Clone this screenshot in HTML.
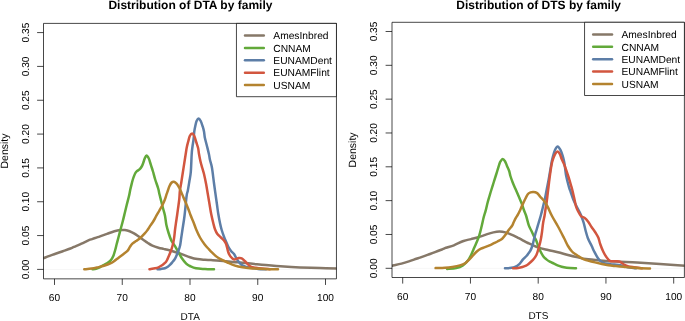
<!DOCTYPE html>
<html><head><meta charset="utf-8"><style>
html,body{margin:0;padding:0;background:#fff;}
svg{display:block;will-change:transform;}
text{font-family:"Liberation Sans",sans-serif;fill:#000;text-rendering:geometricPrecision;}
.a{font-size:10.15px;}
.xl{font-size:10px;}
.yl{font-size:10.5px;}
.lg{font-size:10.25px;}
.t{font-size:12.00px;font-weight:bold;fill:#000;}
</style></head><body>
<svg width="685" height="321" viewBox="0 0 685 321">
<rect width="685" height="321" fill="#fff"/>
<g transform="translate(0.00 0.00)">
<line x1="43.50" y1="269.4" x2="336.45" y2="269.4" stroke="#f7f7f7" stroke-width="1"/>
<text x="190.4" y="8.90" text-anchor="middle" class="t">Distribution of DTA by family</text>
<line x1="54.50" y1="278.85" x2="54.50" y2="284.95" stroke="#000" stroke-width="0.72"/>
<text x="54.50" y="300.7" text-anchor="middle" class="a">60</text>
<line x1="122.25" y1="278.85" x2="122.25" y2="284.95" stroke="#000" stroke-width="0.72"/>
<text x="122.25" y="300.7" text-anchor="middle" class="a">70</text>
<line x1="190.00" y1="278.85" x2="190.00" y2="284.95" stroke="#000" stroke-width="0.72"/>
<text x="190.00" y="300.7" text-anchor="middle" class="a">80</text>
<line x1="257.75" y1="278.85" x2="257.75" y2="284.95" stroke="#000" stroke-width="0.72"/>
<text x="257.75" y="300.7" text-anchor="middle" class="a">90</text>
<line x1="325.50" y1="278.85" x2="325.50" y2="284.95" stroke="#000" stroke-width="0.72"/>
<text x="325.50" y="300.7" text-anchor="middle" class="a">100</text>
<text x="190.2" y="320.2" text-anchor="middle" class="xl">DTA</text>
<line x1="37.10" y1="269.40" x2="43.50" y2="269.40" stroke="#000" stroke-width="0.72"/>
<text transform="translate(28.7 269.40) rotate(-90)" text-anchor="middle" class="a">0.00</text>
<line x1="37.10" y1="235.57" x2="43.50" y2="235.57" stroke="#000" stroke-width="0.72"/>
<text transform="translate(28.7 235.57) rotate(-90)" text-anchor="middle" class="a">0.05</text>
<line x1="37.10" y1="201.74" x2="43.50" y2="201.74" stroke="#000" stroke-width="0.72"/>
<text transform="translate(28.7 201.74) rotate(-90)" text-anchor="middle" class="a">0.10</text>
<line x1="37.10" y1="167.91" x2="43.50" y2="167.91" stroke="#000" stroke-width="0.72"/>
<text transform="translate(28.7 167.91) rotate(-90)" text-anchor="middle" class="a">0.15</text>
<line x1="37.10" y1="134.08" x2="43.50" y2="134.08" stroke="#000" stroke-width="0.72"/>
<text transform="translate(28.7 134.08) rotate(-90)" text-anchor="middle" class="a">0.20</text>
<line x1="37.10" y1="100.25" x2="43.50" y2="100.25" stroke="#000" stroke-width="0.72"/>
<text transform="translate(28.7 100.25) rotate(-90)" text-anchor="middle" class="a">0.25</text>
<line x1="37.10" y1="66.42" x2="43.50" y2="66.42" stroke="#000" stroke-width="0.72"/>
<text transform="translate(28.7 66.42) rotate(-90)" text-anchor="middle" class="a">0.30</text>
<line x1="37.10" y1="32.59" x2="43.50" y2="32.59" stroke="#000" stroke-width="0.72"/>
<text transform="translate(28.7 32.59) rotate(-90)" text-anchor="middle" class="a">0.35</text>
<text transform="translate(7.6 151) rotate(-90)" text-anchor="middle" class="yl">Density</text>
<clipPath id="c0"><rect x="43.50" y="23.40" width="292.95" height="255.45"/></clipPath><g clip-path="url(#c0)"><g>
<path d="M42.00 258.50 C42.27 258.43 42.60 258.45 43.60 258.10 C44.60 257.75 46.02 257.12 48.00 256.40 C49.98 255.68 53.02 254.67 55.50 253.80 C57.98 252.93 60.42 252.08 62.90 251.20 C65.38 250.32 68.55 249.22 70.40 248.50 C72.25 247.78 72.15 247.72 74.00 246.90 C75.85 246.08 79.02 244.72 81.50 243.60 C83.98 242.48 87.15 240.95 88.90 240.20 C90.65 239.45 90.75 239.53 92.00 239.10 C93.25 238.67 95.07 238.05 96.40 237.60 C97.73 237.15 98.23 237.02 100.00 236.40 C101.77 235.78 104.60 234.75 107.00 233.90 C109.40 233.05 112.17 231.93 114.40 231.30 C116.63 230.67 118.65 230.30 120.40 230.10 C122.15 229.90 123.37 229.92 124.90 230.10 C126.43 230.28 128.08 230.65 129.60 231.20 C131.12 231.75 132.48 232.52 134.00 233.40 C135.52 234.28 137.17 235.45 138.70 236.50 C140.23 237.55 141.67 238.62 143.20 239.70 C144.73 240.78 146.37 242.02 147.90 243.00 C149.43 243.98 150.65 244.82 152.40 245.60 C154.15 246.38 156.53 247.15 158.40 247.70 C160.27 248.25 162.08 248.55 163.60 248.90 C165.12 249.25 165.60 249.28 167.50 249.80 C169.40 250.32 172.52 251.23 175.00 252.00 C177.48 252.77 179.92 253.53 182.40 254.40 C184.88 255.27 187.40 256.42 189.90 257.20 C192.40 257.98 194.90 258.67 197.40 259.10 C199.90 259.53 202.63 259.63 204.90 259.80 C207.17 259.97 208.48 259.95 211.00 260.10 C213.52 260.25 216.00 260.35 220.00 260.70 C224.00 261.05 231.67 261.90 235.00 262.20 C238.33 262.50 237.03 262.23 240.00 262.50 C242.97 262.77 248.52 263.37 252.80 263.80 C257.08 264.23 260.50 264.63 265.70 265.10 C270.90 265.57 278.28 266.22 284.00 266.60 C289.72 266.98 294.00 267.17 300.00 267.40 C306.00 267.63 313.67 267.83 320.00 268.00 C326.33 268.17 335.00 268.33 338.00 268.40" fill="none" stroke="#867868" stroke-width="2.50" stroke-linecap="round" stroke-linejoin="round"/>
<path d="M92.50 269.30 C93.08 269.22 94.92 269.08 96.00 268.80 C97.08 268.52 97.92 268.12 99.00 267.60 C100.08 267.08 101.17 266.40 102.50 265.70 C103.83 265.00 105.63 264.28 107.00 263.40 C108.37 262.52 109.65 261.63 110.70 260.40 C111.75 259.17 112.55 257.73 113.30 256.00 C114.05 254.27 114.63 252.00 115.20 250.00 C115.77 248.00 116.18 246.00 116.70 244.00 C117.22 242.00 117.68 240.33 118.30 238.00 C118.92 235.67 119.67 232.75 120.40 230.00 C121.13 227.25 121.95 224.42 122.70 221.50 C123.45 218.58 124.23 215.25 124.90 212.50 C125.57 209.75 126.02 207.75 126.70 205.00 C127.38 202.25 128.42 198.50 129.00 196.00 C129.58 193.50 129.82 191.77 130.20 190.00 C130.58 188.23 130.93 186.90 131.30 185.40 C131.67 183.90 132.02 182.37 132.40 181.00 C132.78 179.63 133.15 178.45 133.60 177.20 C134.05 175.95 134.55 174.50 135.10 173.50 C135.65 172.50 136.17 171.88 136.90 171.20 C137.63 170.52 138.70 170.18 139.50 169.40 C140.30 168.62 141.08 167.57 141.70 166.50 C142.32 165.43 142.70 164.33 143.20 163.00 C143.70 161.67 144.14 159.75 144.70 158.50 C145.26 157.25 145.87 155.50 146.55 155.50 C147.23 155.50 148.18 157.25 148.80 158.50 C149.43 159.75 149.73 161.25 150.30 163.00 C150.87 164.75 151.70 167.42 152.20 169.00 C152.70 170.58 152.80 170.75 153.30 172.50 C153.80 174.25 154.38 176.83 155.20 179.50 C156.02 182.17 157.50 186.08 158.20 188.50 C158.90 190.92 158.88 191.83 159.40 194.00 C159.92 196.17 160.67 199.00 161.30 201.50 C161.93 204.00 162.58 206.63 163.20 209.00 C163.82 211.37 164.47 213.03 165.00 215.70 C165.53 218.37 165.80 222.12 166.40 225.00 C167.00 227.88 167.80 230.47 168.60 233.00 C169.40 235.53 170.47 238.53 171.20 240.20 C171.93 241.87 172.37 242.00 173.00 243.00 C173.63 244.00 174.05 244.58 175.00 246.20 C175.95 247.82 177.58 250.73 178.70 252.70 C179.82 254.67 180.45 256.18 181.70 258.00 C182.95 259.82 184.82 262.27 186.20 263.60 C187.58 264.93 188.37 265.22 190.00 266.00 C191.63 266.78 193.50 267.80 196.00 268.30 C198.50 268.80 202.00 268.83 205.00 269.00 C208.00 269.17 212.50 269.25 214.00 269.30" fill="none" stroke="#62A93A" stroke-width="2.50" stroke-linecap="round" stroke-linejoin="round"/>
<path d="M157.50 269.30 C158.08 269.23 159.77 269.08 161.00 268.90 C162.23 268.72 163.77 268.57 164.90 268.20 C166.03 267.83 166.92 267.30 167.80 266.70 C168.68 266.10 169.42 265.38 170.20 264.60 C170.98 263.82 171.78 262.85 172.50 262.00 C173.22 261.15 173.92 260.38 174.50 259.50 C175.08 258.62 175.38 258.03 176.00 256.70 C176.62 255.37 177.52 253.37 178.20 251.50 C178.88 249.63 179.60 247.75 180.10 245.50 C180.60 243.25 180.82 240.58 181.20 238.00 C181.58 235.42 181.85 233.67 182.40 230.00 C182.95 226.33 183.80 221.67 184.50 216.00 C185.20 210.33 186.05 200.22 186.60 196.00 C187.15 191.78 187.35 193.08 187.80 190.70 C188.25 188.32 188.80 184.82 189.30 181.70 C189.80 178.58 190.40 176.62 190.80 172.00 C191.20 167.38 191.42 158.25 191.70 154.00 C191.98 149.75 192.18 149.00 192.50 146.50 C192.82 144.00 193.30 141.52 193.60 139.00 C193.90 136.48 194.00 133.65 194.30 131.40 C194.60 129.15 195.02 127.23 195.40 125.50 C195.78 123.77 196.07 122.18 196.60 121.00 C197.13 119.82 197.92 118.40 198.60 118.40 C199.28 118.40 200.03 119.70 200.70 121.00 C201.37 122.30 202.05 124.47 202.60 126.20 C203.15 127.93 203.63 129.52 204.00 131.40 C204.37 133.28 204.35 135.23 204.80 137.50 C205.25 139.77 206.02 142.25 206.70 145.00 C207.38 147.75 208.35 151.50 208.90 154.00 C209.45 156.50 209.48 157.67 210.00 160.00 C210.52 162.33 211.32 164.00 212.00 168.00 C212.68 172.00 213.28 178.00 214.10 184.00 C214.92 190.00 216.20 199.00 216.90 204.00 C217.60 209.00 217.75 210.67 218.30 214.00 C218.85 217.33 219.63 221.33 220.20 224.00 C220.77 226.67 221.07 227.88 221.70 230.00 C222.33 232.12 223.25 234.70 224.00 236.70 C224.75 238.70 225.50 240.37 226.20 242.00 C226.90 243.63 227.37 244.97 228.20 246.50 C229.03 248.03 230.20 249.92 231.20 251.20 C232.20 252.48 233.32 252.95 234.20 254.20 C235.08 255.45 235.75 257.45 236.50 258.70 C237.25 259.95 237.83 260.63 238.70 261.70 C239.57 262.77 240.58 264.28 241.70 265.10 C242.82 265.92 243.78 266.15 245.40 266.60 C247.02 267.05 249.30 267.42 251.40 267.80 C253.50 268.18 255.57 268.65 258.00 268.90 C260.43 269.15 264.67 269.23 266.00 269.30" fill="none" stroke="#5D7EA7" stroke-width="2.50" stroke-linecap="round" stroke-linejoin="round"/>
<path d="M149.50 269.30 C150.45 269.13 153.70 268.63 155.20 268.30 C156.70 267.97 157.50 267.73 158.50 267.30 C159.50 266.87 160.33 266.27 161.20 265.70 C162.07 265.13 162.92 264.52 163.70 263.90 C164.48 263.28 165.30 262.73 165.90 262.00 C166.50 261.27 166.87 260.38 167.30 259.50 C167.73 258.62 167.93 258.03 168.50 256.70 C169.07 255.37 170.02 253.37 170.70 251.50 C171.38 249.63 172.03 247.75 172.60 245.50 C173.17 243.25 173.70 240.58 174.10 238.00 C174.50 235.42 174.67 232.67 175.00 230.00 C175.33 227.33 175.77 224.33 176.10 222.00 C176.43 219.67 176.67 218.33 177.00 216.00 C177.33 213.67 177.72 210.83 178.10 208.00 C178.48 205.17 179.00 201.88 179.30 199.00 C179.60 196.12 179.55 193.58 179.90 190.70 C180.25 187.82 180.90 184.82 181.40 181.70 C181.90 178.58 182.18 176.62 182.90 172.00 C183.62 167.38 185.05 158.13 185.70 154.00 C186.35 149.87 186.37 149.33 186.80 147.20 C187.23 145.07 187.80 143.07 188.30 141.20 C188.80 139.33 189.17 137.30 189.80 136.00 C190.43 134.70 191.35 133.40 192.10 133.40 C192.85 133.40 193.62 134.57 194.30 136.00 C194.98 137.43 195.57 140.00 196.20 142.00 C196.83 144.00 197.63 146.00 198.10 148.00 C198.57 150.00 198.60 151.75 199.00 154.00 C199.40 156.25 199.95 159.17 200.50 161.50 C201.05 163.83 201.72 165.92 202.30 168.00 C202.88 170.08 203.37 171.33 204.00 174.00 C204.63 176.67 205.47 180.67 206.10 184.00 C206.73 187.33 207.23 190.67 207.80 194.00 C208.37 197.33 208.93 200.67 209.50 204.00 C210.07 207.33 210.53 210.67 211.20 214.00 C211.87 217.33 212.87 221.47 213.50 224.00 C214.13 226.53 214.38 227.58 215.00 229.20 C215.62 230.82 216.20 232.32 217.20 233.70 C218.20 235.08 219.87 236.37 221.00 237.50 C222.13 238.63 223.13 239.38 224.00 240.50 C224.87 241.62 225.50 242.28 226.20 244.20 C226.90 246.12 227.48 249.95 228.20 252.00 C228.92 254.05 229.50 255.25 230.50 256.50 C231.50 257.75 232.83 259.25 234.20 259.50 C235.57 259.75 237.45 258.20 238.70 258.00 C239.95 257.80 240.70 257.80 241.70 258.30 C242.70 258.80 243.70 260.05 244.70 261.00 C245.70 261.95 246.70 263.07 247.70 264.00 C248.70 264.93 249.33 265.97 250.70 266.60 C252.07 267.23 254.02 267.47 255.90 267.80 C257.78 268.13 259.65 268.37 262.00 268.60 C264.35 268.83 268.67 269.10 270.00 269.20" fill="none" stroke="#D2563F" stroke-width="2.50" stroke-linecap="round" stroke-linejoin="round"/>
<path d="M84.30 269.30 C85.53 269.18 89.33 268.97 91.70 268.60 C94.07 268.23 96.20 267.65 98.50 267.10 C100.80 266.55 103.43 265.95 105.50 265.30 C107.57 264.65 109.48 263.87 110.90 263.20 C112.32 262.53 112.67 262.25 114.00 261.30 C115.33 260.35 117.30 258.72 118.90 257.50 C120.50 256.28 122.13 255.13 123.60 254.00 C125.07 252.87 126.65 251.88 127.70 250.70 C128.75 249.52 129.12 248.08 129.90 246.90 C130.68 245.72 131.38 244.57 132.40 243.60 C133.42 242.63 134.65 242.08 136.00 241.10 C137.35 240.12 139.00 239.02 140.50 237.70 C142.00 236.38 143.83 234.48 145.00 233.20 C146.17 231.92 146.58 231.30 147.50 230.00 C148.42 228.70 149.50 226.90 150.50 225.40 C151.50 223.90 152.52 222.62 153.50 221.00 C154.48 219.38 155.42 217.45 156.40 215.70 C157.38 213.95 158.43 212.20 159.40 210.50 C160.37 208.80 161.32 207.25 162.20 205.50 C163.08 203.75 163.97 201.88 164.70 200.00 C165.43 198.12 166.07 195.78 166.60 194.20 C167.13 192.62 167.43 191.83 167.90 190.50 C168.37 189.17 168.77 187.53 169.40 186.20 C170.03 184.87 170.95 183.25 171.70 182.50 C172.45 181.75 173.08 181.52 173.90 181.70 C174.72 181.88 175.78 182.72 176.60 183.60 C177.42 184.48 178.07 185.70 178.80 187.00 C179.53 188.30 180.22 189.65 181.00 191.40 C181.78 193.15 182.67 195.53 183.50 197.50 C184.33 199.47 185.17 201.20 186.00 203.20 C186.83 205.20 187.75 207.53 188.50 209.50 C189.25 211.47 189.67 212.88 190.50 215.00 C191.33 217.12 192.55 219.78 193.50 222.20 C194.45 224.62 195.12 226.95 196.20 229.50 C197.28 232.05 198.62 235.05 200.00 237.50 C201.38 239.95 203.00 242.22 204.50 244.20 C206.00 246.18 207.63 247.90 209.00 249.40 C210.37 250.90 211.53 252.07 212.70 253.20 C213.87 254.33 214.78 255.25 216.00 256.20 C217.22 257.15 218.08 257.85 220.00 258.90 C221.92 259.95 225.00 261.38 227.50 262.50 C230.00 263.62 232.52 264.80 235.00 265.60 C237.48 266.40 239.92 266.87 242.40 267.30 C244.88 267.73 246.15 267.93 249.90 268.20 C253.65 268.47 260.22 268.73 264.90 268.90 C269.58 269.07 275.82 269.15 278.00 269.20" fill="none" stroke="#B4832F" stroke-width="2.50" stroke-linecap="round" stroke-linejoin="round"/>
</g></g>
<path d="M43.50 23.40H336.45V278.85H43.50Z" fill="none" stroke="#000" stroke-width="0.72"/>
<path d="M336.45 23.40V96.70H236.45V23.40Z" fill="#fff" stroke="#000" stroke-width="0.72"/>
<line x1="245.0" y1="35.60" x2="263.8" y2="35.60" stroke="#867868" stroke-width="2.50" stroke-linecap="round"/>
<text x="273.3" y="39.40" class="lg">AmesInbred</text>
<line x1="245.0" y1="47.95" x2="263.8" y2="47.95" stroke="#62A93A" stroke-width="2.50" stroke-linecap="round"/>
<text x="273.3" y="51.75" class="lg">CNNAM</text>
<line x1="245.0" y1="60.30" x2="263.8" y2="60.30" stroke="#5D7EA7" stroke-width="2.50" stroke-linecap="round"/>
<text x="273.3" y="64.10" class="lg">EUNAMDent</text>
<line x1="245.0" y1="72.65" x2="263.8" y2="72.65" stroke="#D2563F" stroke-width="2.50" stroke-linecap="round"/>
<text x="273.3" y="76.45" class="lg">EUNAMFlint</text>
<line x1="245.0" y1="85.00" x2="263.8" y2="85.00" stroke="#B4832F" stroke-width="2.50" stroke-linecap="round"/>
<text x="273.3" y="88.80" class="lg">USNAM</text>
</g>
<g transform="translate(348.20 -1.10)">
<line x1="43.80" y1="269.4" x2="336.20" y2="269.4" stroke="#f7f7f7" stroke-width="1"/>
<text x="190.4" y="9.85" text-anchor="middle" class="t">Distribution of DTS by family</text>
<line x1="54.50" y1="278.60" x2="54.50" y2="284.70" stroke="#000" stroke-width="0.72"/>
<text x="54.50" y="300.7" text-anchor="middle" class="a">60</text>
<line x1="122.25" y1="278.60" x2="122.25" y2="284.70" stroke="#000" stroke-width="0.72"/>
<text x="122.25" y="300.7" text-anchor="middle" class="a">70</text>
<line x1="190.00" y1="278.60" x2="190.00" y2="284.70" stroke="#000" stroke-width="0.72"/>
<text x="190.00" y="300.7" text-anchor="middle" class="a">80</text>
<line x1="257.75" y1="278.60" x2="257.75" y2="284.70" stroke="#000" stroke-width="0.72"/>
<text x="257.75" y="300.7" text-anchor="middle" class="a">90</text>
<line x1="325.50" y1="278.60" x2="325.50" y2="284.70" stroke="#000" stroke-width="0.72"/>
<text x="325.50" y="300.7" text-anchor="middle" class="a">100</text>
<text x="190.2" y="320.2" text-anchor="middle" class="xl">DTS</text>
<line x1="37.40" y1="269.40" x2="43.80" y2="269.40" stroke="#000" stroke-width="0.72"/>
<text transform="translate(28.7 269.40) rotate(-90)" text-anchor="middle" class="a">0.00</text>
<line x1="37.40" y1="235.57" x2="43.80" y2="235.57" stroke="#000" stroke-width="0.72"/>
<text transform="translate(28.7 235.57) rotate(-90)" text-anchor="middle" class="a">0.05</text>
<line x1="37.40" y1="201.74" x2="43.80" y2="201.74" stroke="#000" stroke-width="0.72"/>
<text transform="translate(28.7 201.74) rotate(-90)" text-anchor="middle" class="a">0.10</text>
<line x1="37.40" y1="167.91" x2="43.80" y2="167.91" stroke="#000" stroke-width="0.72"/>
<text transform="translate(28.7 167.91) rotate(-90)" text-anchor="middle" class="a">0.15</text>
<line x1="37.40" y1="134.08" x2="43.80" y2="134.08" stroke="#000" stroke-width="0.72"/>
<text transform="translate(28.7 134.08) rotate(-90)" text-anchor="middle" class="a">0.20</text>
<line x1="37.40" y1="100.25" x2="43.80" y2="100.25" stroke="#000" stroke-width="0.72"/>
<text transform="translate(28.7 100.25) rotate(-90)" text-anchor="middle" class="a">0.25</text>
<line x1="37.40" y1="66.42" x2="43.80" y2="66.42" stroke="#000" stroke-width="0.72"/>
<text transform="translate(28.7 66.42) rotate(-90)" text-anchor="middle" class="a">0.30</text>
<line x1="37.40" y1="32.59" x2="43.80" y2="32.59" stroke="#000" stroke-width="0.72"/>
<text transform="translate(28.7 32.59) rotate(-90)" text-anchor="middle" class="a">0.35</text>
<text transform="translate(7.6 151) rotate(-90)" text-anchor="middle" class="yl">Density</text>
<clipPath id="c348"><rect x="43.80" y="23.40" width="292.40" height="255.20"/></clipPath><g clip-path="url(#c348)"><g>
<path d="M41.80 266.90 C42.13 266.88 43.13 266.88 43.80 266.80 C44.47 266.72 44.22 266.75 45.80 266.40 C47.38 266.05 50.82 265.35 53.30 264.70 C55.78 264.05 58.22 263.30 60.70 262.50 C63.18 261.70 66.35 260.53 68.20 259.90 C70.05 259.27 69.95 259.35 71.80 258.70 C73.65 258.05 76.80 256.90 79.30 256.00 C81.80 255.10 84.32 254.23 86.80 253.30 C89.28 252.37 92.37 251.13 94.20 250.40 C96.03 249.67 95.88 249.57 97.80 248.90 C99.72 248.23 102.78 247.53 105.70 246.40 C108.62 245.27 112.45 243.13 115.30 242.10 C118.15 241.07 120.32 240.83 122.80 240.20 C125.28 239.57 127.72 239.05 130.20 238.30 C132.68 237.55 135.20 236.50 137.70 235.70 C140.20 234.90 142.95 234.00 145.20 233.50 C147.45 233.00 149.20 232.70 151.20 232.70 C153.20 232.70 155.10 232.97 157.20 233.50 C159.30 234.03 161.70 235.00 163.80 235.90 C165.90 236.80 168.13 238.07 169.80 238.90 C171.47 239.73 172.13 240.03 173.80 240.90 C175.47 241.77 177.13 242.83 179.80 244.10 C182.47 245.37 186.47 247.33 189.80 248.50 C193.13 249.67 196.47 250.30 199.80 251.10 C203.13 251.90 206.47 252.47 209.80 253.30 C213.13 254.13 216.47 255.23 219.80 256.10 C223.13 256.97 226.80 257.83 229.80 258.50 C232.80 259.17 234.13 259.60 237.80 260.10 C241.47 260.60 246.82 261.07 251.80 261.50 C256.78 261.93 261.53 262.33 267.70 262.70 C273.87 263.07 281.45 263.28 288.80 263.70 C296.15 264.12 303.63 264.68 311.80 265.20 C319.97 265.72 333.47 266.53 337.80 266.80" fill="none" stroke="#867868" stroke-width="2.50" stroke-linecap="round" stroke-linejoin="round"/>
<path d="M98.80 270.10 C100.33 269.95 105.35 269.80 108.00 269.20 C110.65 268.60 112.72 267.82 114.70 266.50 C116.68 265.18 118.53 263.03 119.90 261.30 C121.27 259.57 122.02 257.85 122.90 256.10 C123.78 254.35 124.35 252.77 125.20 250.80 C126.05 248.83 127.03 246.63 128.00 244.30 C128.97 241.97 130.08 239.67 131.00 236.80 C131.92 233.93 132.78 230.05 133.50 227.10 C134.22 224.15 134.78 221.18 135.30 219.10 C135.82 217.02 136.17 216.10 136.60 214.60 C137.03 213.10 137.42 211.98 137.90 210.10 C138.38 208.22 138.93 205.47 139.50 203.30 C140.07 201.13 140.70 199.13 141.30 197.10 C141.90 195.07 142.38 193.43 143.10 191.10 C143.82 188.77 144.82 185.60 145.60 183.10 C146.38 180.60 147.20 178.02 147.80 176.10 C148.40 174.18 148.65 173.38 149.20 171.60 C149.75 169.82 150.58 166.92 151.10 165.40 C151.62 163.88 151.75 163.38 152.30 162.50 C152.85 161.62 153.65 160.13 154.40 160.10 C155.15 160.07 156.08 161.18 156.80 162.30 C157.52 163.42 158.00 165.17 158.70 166.80 C159.40 168.43 160.42 170.38 161.00 172.10 C161.58 173.82 161.60 175.15 162.20 177.10 C162.80 179.05 163.77 181.68 164.60 183.80 C165.43 185.92 166.12 187.28 167.20 189.80 C168.28 192.32 170.02 196.35 171.10 198.90 C172.18 201.45 172.93 203.07 173.70 205.10 C174.47 207.13 174.98 209.10 175.70 211.10 C176.42 213.10 177.17 214.48 178.00 217.10 C178.83 219.72 179.82 224.30 180.70 226.80 C181.58 229.30 182.45 230.30 183.30 232.10 C184.15 233.90 185.05 236.10 185.80 237.60 C186.55 239.10 187.10 239.52 187.80 241.10 C188.50 242.68 189.27 245.23 190.00 247.10 C190.73 248.97 191.33 250.57 192.20 252.30 C193.07 254.03 194.20 256.13 195.20 257.50 C196.20 258.87 197.13 259.62 198.20 260.50 C199.27 261.38 200.33 262.10 201.60 262.80 C202.87 263.50 204.27 264.02 205.80 264.70 C207.33 265.38 209.13 266.28 210.80 266.90 C212.47 267.52 213.97 268.02 215.80 268.40 C217.63 268.78 219.80 269.03 221.80 269.20 C223.80 269.37 226.80 269.37 227.80 269.40" fill="none" stroke="#62A93A" stroke-width="2.50" stroke-linecap="round" stroke-linejoin="round"/>
<path d="M156.80 269.40 C157.63 269.33 160.13 269.22 161.80 269.00 C163.47 268.78 165.20 268.78 166.80 268.10 C168.40 267.42 170.07 266.17 171.40 264.90 C172.73 263.63 173.62 261.85 174.80 260.50 C175.98 259.15 177.32 258.17 178.50 256.80 C179.68 255.43 180.97 253.92 181.90 252.30 C182.83 250.68 183.48 248.97 184.10 247.10 C184.72 245.23 185.05 243.27 185.60 241.10 C186.15 238.93 186.97 235.68 187.40 234.10 C187.83 232.52 187.70 233.27 188.20 231.60 C188.70 229.93 189.67 226.60 190.40 224.10 C191.13 221.60 191.92 219.10 192.60 216.60 C193.28 214.10 194.00 211.10 194.50 209.10 C195.00 207.10 195.13 206.60 195.60 204.60 C196.07 202.60 196.77 199.68 197.30 197.10 C197.83 194.52 198.35 191.43 198.80 189.10 C199.25 186.77 199.62 185.10 200.00 183.10 C200.38 181.10 200.73 179.18 201.10 177.10 C201.47 175.02 201.82 172.87 202.20 170.60 C202.58 168.33 202.98 165.67 203.40 163.50 C203.82 161.33 204.12 159.72 204.70 157.60 C205.28 155.48 206.10 152.48 206.90 150.80 C207.70 149.12 208.63 147.50 209.50 147.50 C210.37 147.50 211.28 149.25 212.10 150.80 C212.92 152.35 213.75 154.75 214.40 156.80 C215.05 158.85 215.57 160.88 216.00 163.10 C216.43 165.32 216.67 167.77 217.00 170.10 C217.33 172.43 217.37 174.07 218.00 177.10 C218.63 180.13 220.05 185.63 220.80 188.30 C221.55 190.97 221.78 191.05 222.50 193.10 C223.22 195.15 224.12 198.18 225.10 200.60 C226.08 203.02 227.18 205.15 228.40 207.60 C229.62 210.05 231.42 213.15 232.40 215.30 C233.38 217.45 233.73 218.87 234.30 220.50 C234.87 222.13 235.27 223.17 235.80 225.10 C236.33 227.03 236.83 229.68 237.50 232.10 C238.17 234.52 238.80 237.10 239.80 239.60 C240.80 242.10 242.47 244.93 243.50 247.10 C244.53 249.27 244.95 250.57 246.00 252.60 C247.05 254.63 248.55 257.55 249.80 259.30 C251.05 261.05 252.02 262.17 253.50 263.10 C254.98 264.03 256.58 264.47 258.70 264.90 C260.82 265.33 263.95 265.45 266.20 265.70 C268.45 265.95 270.58 266.12 272.20 266.40 C273.82 266.68 274.30 267.02 275.90 267.40 C277.50 267.78 279.82 268.37 281.80 268.70 C283.78 269.03 286.80 269.28 287.80 269.40" fill="none" stroke="#5D7EA7" stroke-width="2.50" stroke-linecap="round" stroke-linejoin="round"/>
<path d="M164.80 269.40 C165.63 269.33 168.23 269.22 169.80 269.00 C171.37 268.78 172.87 268.48 174.20 268.10 C175.53 267.72 176.83 267.17 177.80 266.70 C178.77 266.23 178.88 266.20 180.00 265.30 C181.12 264.40 183.13 262.83 184.50 261.30 C185.87 259.77 187.13 258.38 188.20 256.10 C189.27 253.82 190.17 250.18 190.90 247.60 C191.63 245.02 192.12 243.02 192.60 240.60 C193.08 238.18 193.42 235.85 193.80 233.10 C194.18 230.35 194.47 226.85 194.90 224.10 C195.33 221.35 195.97 219.10 196.40 216.60 C196.83 214.10 197.22 210.85 197.50 209.10 C197.78 207.35 197.82 208.10 198.10 206.10 C198.38 204.10 198.83 200.10 199.20 197.10 C199.57 194.10 199.97 190.85 200.30 188.10 C200.63 185.35 200.88 183.10 201.20 180.60 C201.52 178.10 201.82 175.68 202.20 173.10 C202.58 170.52 203.03 167.32 203.50 165.10 C203.97 162.88 204.43 161.43 205.00 159.80 C205.57 158.17 206.18 156.48 206.90 155.30 C207.62 154.12 208.50 152.70 209.30 152.70 C210.10 152.70 210.98 154.02 211.70 155.30 C212.42 156.58 212.88 158.68 213.60 160.40 C214.32 162.12 215.23 163.72 216.00 165.60 C216.77 167.48 217.53 169.78 218.20 171.70 C218.87 173.62 219.40 175.23 220.00 177.10 C220.60 178.97 221.30 181.23 221.80 182.90 C222.30 184.57 222.53 185.40 223.00 187.10 C223.47 188.80 224.05 190.85 224.60 193.10 C225.15 195.35 225.73 198.10 226.30 200.60 C226.87 203.10 227.38 206.10 228.00 208.10 C228.62 210.10 229.20 211.08 230.00 212.60 C230.80 214.12 231.72 216.12 232.80 217.20 C233.88 218.28 235.33 218.20 236.50 219.10 C237.67 220.00 238.63 221.07 239.80 222.60 C240.97 224.13 242.27 226.47 243.50 228.30 C244.73 230.13 246.08 231.85 247.20 233.60 C248.32 235.35 249.40 236.88 250.20 238.80 C251.00 240.72 251.20 242.80 252.00 245.10 C252.80 247.40 254.00 250.48 255.00 252.60 C256.00 254.72 256.88 256.25 258.00 257.80 C259.12 259.35 260.08 261.15 261.70 261.90 C263.32 262.65 265.95 262.10 267.70 262.30 C269.45 262.50 270.83 262.53 272.20 263.10 C273.57 263.67 274.53 264.97 275.90 265.70 C277.27 266.43 278.77 267.05 280.40 267.50 C282.03 267.95 283.47 268.08 285.70 268.40 C287.93 268.72 292.45 269.23 293.80 269.40" fill="none" stroke="#D2563F" stroke-width="2.50" stroke-linecap="round" stroke-linejoin="round"/>
<path d="M87.40 269.20 C88.97 269.13 94.00 269.00 96.80 268.80 C99.60 268.60 101.72 268.38 104.20 268.00 C106.68 267.62 109.57 267.12 111.70 266.50 C113.83 265.88 115.38 265.35 117.00 264.30 C118.62 263.25 120.03 261.57 121.40 260.20 C122.77 258.83 123.95 257.42 125.20 256.10 C126.45 254.78 127.63 253.37 128.90 252.30 C130.17 251.23 131.48 250.37 132.80 249.70 C134.12 249.03 135.38 248.83 136.80 248.30 C138.22 247.77 139.80 247.17 141.30 246.50 C142.80 245.83 144.47 244.95 145.80 244.30 C147.13 243.65 147.93 243.35 149.30 242.60 C150.67 241.85 152.60 241.02 154.00 239.80 C155.40 238.58 156.58 236.80 157.70 235.30 C158.82 233.80 159.70 232.17 160.70 230.80 C161.70 229.43 162.88 228.38 163.70 227.10 C164.52 225.82 164.97 224.40 165.60 223.10 C166.23 221.80 166.80 220.57 167.50 219.30 C168.20 218.03 169.05 216.87 169.80 215.50 C170.55 214.13 171.32 212.58 172.00 211.10 C172.68 209.62 173.28 207.98 173.90 206.60 C174.52 205.22 175.08 204.08 175.70 202.80 C176.32 201.52 176.82 200.28 177.60 198.90 C178.38 197.52 179.20 195.47 180.40 194.50 C181.60 193.53 183.37 193.15 184.80 193.10 C186.23 193.05 187.80 193.42 189.00 194.20 C190.20 194.98 190.92 196.57 192.00 197.80 C193.08 199.03 194.43 200.23 195.50 201.60 C196.57 202.97 197.67 204.82 198.40 206.00 C199.13 207.18 199.00 206.85 199.90 208.70 C200.80 210.55 202.15 213.95 203.80 217.10 C205.45 220.25 207.80 223.93 209.80 227.60 C211.80 231.27 214.13 235.85 215.80 239.10 C217.47 242.35 218.47 244.85 219.80 247.10 C221.13 249.35 222.47 251.18 223.80 252.60 C225.13 254.02 226.13 254.45 227.80 255.60 C229.47 256.75 232.13 258.57 233.80 259.50 C235.47 260.43 235.88 260.60 237.80 261.20 C239.72 261.80 242.80 262.48 245.30 263.10 C247.80 263.72 250.32 264.35 252.80 264.90 C255.28 265.45 257.72 266.02 260.20 266.40 C262.68 266.78 265.20 266.95 267.70 267.20 C270.20 267.45 272.70 267.65 275.20 267.90 C277.70 268.15 279.93 268.47 282.70 268.70 C285.47 268.93 288.62 269.17 291.80 269.30 C294.98 269.43 300.13 269.47 301.80 269.50" fill="none" stroke="#B4832F" stroke-width="2.50" stroke-linecap="round" stroke-linejoin="round"/>
</g></g>
<path d="M43.80 23.40H336.20V278.60H43.80Z" fill="none" stroke="#000" stroke-width="0.72"/>
<path d="M336.20 23.40V96.60H236.35V23.40Z" fill="#fff" stroke="#000" stroke-width="0.72"/>
<line x1="245.0" y1="35.60" x2="263.8" y2="35.60" stroke="#867868" stroke-width="2.50" stroke-linecap="round"/>
<text x="273.3" y="39.40" class="lg">AmesInbred</text>
<line x1="245.0" y1="47.95" x2="263.8" y2="47.95" stroke="#62A93A" stroke-width="2.50" stroke-linecap="round"/>
<text x="273.3" y="51.75" class="lg">CNNAM</text>
<line x1="245.0" y1="60.30" x2="263.8" y2="60.30" stroke="#5D7EA7" stroke-width="2.50" stroke-linecap="round"/>
<text x="273.3" y="64.10" class="lg">EUNAMDent</text>
<line x1="245.0" y1="72.65" x2="263.8" y2="72.65" stroke="#D2563F" stroke-width="2.50" stroke-linecap="round"/>
<text x="273.3" y="76.45" class="lg">EUNAMFlint</text>
<line x1="245.0" y1="85.00" x2="263.8" y2="85.00" stroke="#B4832F" stroke-width="2.50" stroke-linecap="round"/>
<text x="273.3" y="88.80" class="lg">USNAM</text>
</g>
</svg>
</body></html>
